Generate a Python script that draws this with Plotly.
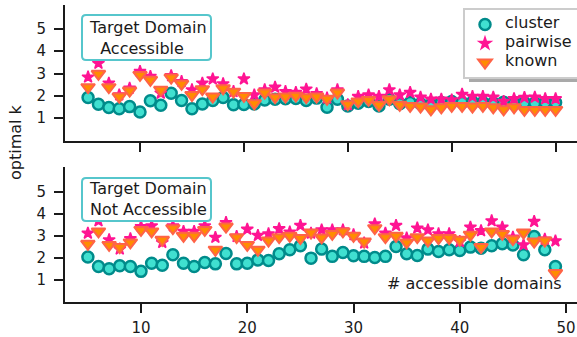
import plotly.graph_objects as go

# ---------------- data ----------------
x_top = list(range(5, 51))
x_bot = list(range(5, 50))

top_cluster = [1.93, 1.63, 1.48, 1.42, 1.52, 1.28, 1.78, 1.58, 2.12, 1.79,
               1.42, 1.64, 1.79, 1.93, 1.60, 1.61, 1.64, 1.82, 1.85, 1.87,
               1.88, 1.79, 1.90, 1.49, 1.85, 1.55, 1.67, 1.75, 1.55, 1.85,
               1.65, 1.70, 1.65, 1.62, 1.70, 1.75, 1.70, 1.72, 1.70, 1.68,
               1.72, 1.68, 1.70, 1.68, 1.70, 1.70]
top_pairwise = [2.84, 3.46, 2.57, 2.04, 2.34, 3.09, 2.87, 2.12, 2.90, 2.64,
                2.27, 2.57, 2.76, 2.54, 2.19, 2.76, 2.04, 2.27, 2.39, 2.19,
                2.15, 2.30, 2.10, 1.90, 2.27, 1.60, 1.97, 2.04, 1.97, 2.27,
                2.04, 2.15, 1.94, 1.85, 1.85, 1.82, 2.07, 1.97, 1.97, 1.94,
                1.75, 1.87, 1.93, 1.94, 1.87, 1.87]
top_known = [2.39, 2.99, 2.39, 1.97, 2.24, 2.94, 2.72, 2.27, 2.82, 2.54,
             2.04, 2.30, 1.97, 2.34, 2.19, 2.00, 1.67, 2.15, 1.94, 1.97,
             2.01, 1.94, 1.97, 1.87, 2.15, 1.63, 1.75, 1.82, 1.60, 1.85,
             1.60, 1.55, 1.52, 1.40, 1.49, 1.55, 1.55, 1.52, 1.55, 1.49,
             1.40, 1.49, 1.37, 1.37, 1.37, 1.37]

bot_cluster = [2.03, 1.60, 1.50, 1.63, 1.60, 1.38, 1.75, 1.66, 2.13, 1.75,
               1.60, 1.78, 1.72, 2.19, 1.72, 1.75, 1.90, 1.87, 2.18, 2.36,
               2.54, 1.98, 2.39, 2.06, 2.24, 2.09, 2.06, 2.01, 2.06, 2.51,
               2.18, 2.10, 2.39, 2.28, 2.36, 2.33, 2.48, 2.43, 2.54, 2.63,
               2.58, 2.13, 2.96, 2.36, 1.60]
bot_pairwise = [3.11, 3.67, 2.81, 2.39, 2.86, 3.41, 3.44, 2.69, 3.44, 3.19,
                3.19, 3.44, 2.92, 3.59, 2.96, 3.29, 3.01, 3.08, 3.31, 3.16,
                3.46, 3.11, 3.26, 3.26, 3.26, 3.04, 2.66, 3.53, 3.11, 3.46,
                2.89, 3.34, 3.26, 3.08, 3.08, 2.73, 3.38, 3.22, 3.67, 3.38,
                2.93, 2.58, 3.64, 2.84, 2.76]
bot_known = [2.63, 3.19, 2.58, 2.48, 2.69, 3.26, 3.19, 2.81, 3.34, 2.99,
             2.99, 3.26, 2.36, 3.41, 2.93, 2.58, 2.36, 2.78, 2.93, 2.99,
             2.89, 3.14, 2.92, 3.08, 3.19, 2.99, 2.73, 3.34, 2.93, 2.99,
             2.69, 2.93, 2.78, 2.89, 2.89, 2.81, 3.04, 2.48, 3.19, 3.08,
             2.84, 3.14, 2.73, 2.78, 1.30]

y_ticks = [1, 2, 3, 4, 5]
x_ticks = [10, 20, 30, 40, 50]

# ---------------- styling ----------------
W, H = 577, 337
ML, MR, MT, MB = 65, 0, 5, 35
PW, PH = W - ML - MR, H - MT - MB
FONT = "DejaVu Sans"
AX = "#1a1a1a"

def px2x(p):
    return (p - ML) / PW

def py2y(p):
    return (H - MB - p) / PH

styles = {
    "cluster": dict(symbol="circle", size=11, color="#40E0D0",
                    line=dict(color="#008B8B", width=2.5)),
    "pairwise": dict(symbol="star", size=9, color="#FF1493",
                     line=dict(color="#FF1493", width=1.5)),
    "known": dict(symbol="triangle-down", size=12, color="#FF8C00",
                  line=dict(color="#FF6347", width=2)),
}

fig = go.Figure()
series_top = [("cluster", top_cluster), ("pairwise", top_pairwise), ("known", top_known)]
series_bot = [("cluster", bot_cluster), ("pairwise", bot_pairwise), ("known", bot_known)]

for name, vals in series_top:
    fig.add_trace(go.Scatter(x=x_top, y=vals, mode="markers",
                             name=f'<span style="font-size:16px">{name}</span>',
                             marker=styles[name], xaxis="x", yaxis="y",
                             showlegend=True))
for name, vals in series_bot:
    fig.add_trace(go.Scatter(x=x_bot, y=vals, mode="markers", name=name,
                             marker=styles[name], xaxis="x2", yaxis="y2",
                             showlegend=False))

axis_common = dict(showline=True, linecolor=AX, linewidth=2, showgrid=False,
                   zeroline=False, ticks="outside", tickcolor=AX, tickwidth=2,
                   ticklen=9, mirror=False, automargin=False,
                   tickfont=dict(family=FONT, size=15, color=AX))

top_dom = [py2y(141), 1.0]
bot_dom = [0.0, py2y(167.3)]

fig.update_layout(
    width=W, height=H,
    margin=dict(l=ML, r=MR, t=MT, b=MB, pad=0, autoexpand=False),
    paper_bgcolor="white", plot_bgcolor="white",
    font=dict(family=FONT, size=16, color=AX),
    xaxis=dict(axis_common, domain=[0, 1], range=[2.78, 52.06], tickvals=x_ticks,
               showticklabels=False, anchor="y"),
    yaxis=dict(axis_common, domain=top_dom, range=[-0.02, 6.07], tickvals=y_ticks,
               anchor="x", ticklabelstandoff=5),
    xaxis2=dict(axis_common, domain=[0, 1], range=[2.847, 51.03], tickvals=x_ticks,
                anchor="y2", ticklabelstandoff=2),
    yaxis2=dict(axis_common, domain=bot_dom, range=[-0.01, 6.1], tickvals=y_ticks,
                anchor="x2", ticklabelstandoff=5),
    legend=dict(x=px2x(463), y=py2y(8), xanchor="left", yanchor="top",
                bgcolor="white", bordercolor="#cccccc", borderwidth=2,
                font=dict(family=FONT, size=10, color=AX),
                itemwidth=30),
    showlegend=True,
)

# legend shadow
fig.add_shape(type="rect", xref="paper", yref="paper",
              x0=px2x(469), x1=px2x(577), y0=py2y(82), y1=py2y(14),
              fillcolor="#a9a9a9", line=dict(width=0), layer="above")

def rounded_box(x0, y0, x1, y1, r=4):
    X0, X1 = px2x(x0), px2x(x1)
    Y0, Y1 = py2y(y0), py2y(y1)
    rx, ry = r / PW, r / PH
    return (f"M{X0+rx},{Y0} L{X1-rx},{Y0} Q{X1},{Y0} {X1},{Y0-ry} "
            f"L{X1},{Y1+ry} Q{X1},{Y1} {X1-rx},{Y1} L{X0+rx},{Y1} "
            f"Q{X0},{Y1} {X0},{Y1+ry} L{X0},{Y0-ry} Q{X0},{Y0} {X0+rx},{Y0} Z")

BOX = "#56C6CC"
fig.add_shape(type="path", xref="paper", yref="paper",
              path=rounded_box(82, 15, 211, 60), fillcolor="white",
              line=dict(color=BOX, width=2), layer="above")
fig.add_shape(type="path", xref="paper", yref="paper",
              path=rounded_box(82, 178, 211, 221), fillcolor="white",
              line=dict(color=BOX, width=2), layer="above")

fig.add_annotation(xref="paper", yref="paper", x=px2x(87), y=py2y(37.5),
                   xanchor="left", yanchor="middle", align="left", showarrow=False,
                   text="Target Domain<br>\u00a0\u00a0Accessible",
                   font=dict(family=FONT, size=16, color=AX))
fig.add_annotation(xref="paper", yref="paper", x=px2x(87), y=py2y(199),
                   xanchor="left", yanchor="middle", align="left", showarrow=False,
                   text="Target Domain<br>Not Accessible",
                   font=dict(family=FONT, size=16, color=AX))
fig.add_annotation(xref="paper", yref="paper", x=px2x(564), y=py2y(283),
                   xanchor="right", yanchor="middle", showarrow=False,
                   text="# accessible domains",
                   font=dict(family=FONT, size=16, color=AX))
fig.add_annotation(xref="paper", yref="paper", x=px2x(15), y=py2y(142),
                   xanchor="center", yanchor="middle", showarrow=False,
                   textangle=-90, text="optimal k",
                   font=dict(family=FONT, size=16, color=AX))

fig.write_html("out.html", config={"displayModeBar": False},
               post_script="document.body.style.margin='0';document.body.style.overflow='hidden';")
